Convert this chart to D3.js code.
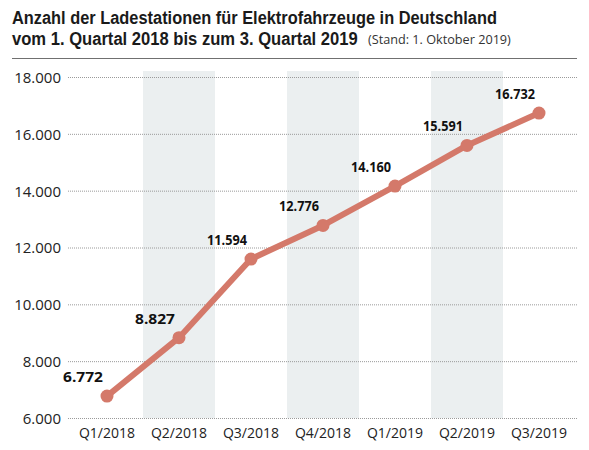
<!DOCTYPE html>
<html>
<head>
<meta charset="utf-8">
<script src="https://cdn.jsdelivr.net/npm/d3@7"></script>
<style>
  body { margin: 0; background: #fff; }
  svg { display: block; font-family: "Open Sans", "Noto Sans", sans-serif; }
</style>
</head>
<body>
<svg id="chart" width="589" height="450"></svg>
<script>
// data
var quarters = ['Q1/2018', 'Q2/2018', 'Q3/2018', 'Q4/2018', 'Q1/2019', 'Q2/2019', 'Q3/2019'];
var stations = [6772, 8827, 11594, 12776, 14160, 15591, 16732];
var yTicks = [6000, 8000, 10000, 12000, 14000, 16000, 18000];
var shaded = ['Q2/2018', 'Q4/2018', 'Q2/2019'];

var de = d3.formatLocale({ decimal: ',', thousands: '.', grouping: [3], currency: ['', ' €'] });
var fmt = de.format(',d');

var svg = d3.select('#chart');
var lineColor = '#d4796a';

var x = d3.scaleBand().domain(quarters).range([71, 575]).padding(0);
var y = d3.scaleLinear().domain([6000, 18000]).range([418, 77]);

function cx(q) { return x(q) + x.bandwidth() / 2; }

// squeeze a text horizontally to a given width (the original uses a condensed face)
function squeeze(sel, px, py, width, anchor) {
    var w = sel.node().getComputedTextLength();
    var s = width / w;
    sel.attr('text-anchor', anchor || 'start')
       .attr('transform', 'translate(' + px + ',' + py + ') scale(' + s + ',1)');
}

// title
var titleFont = '"Liberation Sans", Arial, sans-serif';
squeeze(svg.append('text')
    .style('font-family', titleFont)
    .attr('font-size', 18.5).attr('font-weight', 'bold').attr('fill', '#1a1a1a')
    .text('Anzahl der Ladestationen für Elektrofahrzeuge in Deutschland'), 12, 24, 485);
squeeze(svg.append('text')
    .style('font-family', titleFont)
    .attr('font-size', 18.5).attr('font-weight', 'bold').attr('fill', '#1a1a1a')
    .text('vom 1. Quartal 2018 bis zum 3. Quartal 2019'), 12, 45, 346);
squeeze(svg.append('text')
    .attr('font-size', 12).attr('fill', '#333')
    .text('(Stand: 1. Oktober 2019)'), 368, 44, 143);

svg.append('line')
    .attr('x1', 12).attr('x2', 577).attr('y1', 58.5).attr('y2', 58.5)
    .attr('stroke', '#707070').attr('stroke-width', 1.2);

// shaded columns
svg.append('g').selectAll('rect')
    .data(shaded)
    .enter()
    .append('rect')
        .attr('x', function(q) { return x(q); })
        .attr('y', 71)
        .attr('width', x.bandwidth())
        .attr('height', y(6000) - 71)
        .attr('fill', '#ebeff0');

// y axis with dotted grid
var yAxis = svg.append('g')
    .attr('transform', 'translate(68,0)')
    .call(d3.axisLeft(y).tickValues(yTicks).tickFormat(fmt).tickSize(-509).tickPadding(7));
yAxis.select('.domain').remove();
yAxis.selectAll('line')
    .attr('stroke', '#9a9a9a').attr('stroke-width', 1).attr('stroke-dasharray', '1,1');
yAxis.selectAll('text')
    .attr('font-size', 15).attr('fill', '#222').attr('dy', '0.36em')
    .style('font-family', '"Open Sans", sans-serif');

// x axis
var xAxis = svg.append('g')
    .attr('transform', 'translate(0,' + y(6000) + ')')
    .call(d3.axisBottom(x).tickSize(0).tickPadding(10));
xAxis.select('.domain').remove();
xAxis.selectAll('text')
    .attr('font-size', 14).attr('fill', '#222')
    .style('font-family', '"Open Sans", sans-serif');

// line and dots
var line = d3.line()
    .x(function(d, i) { return cx(quarters[i]); })
    .y(function(d) { return y(d); });

svg.append('path')
    .datum(stations)
    .attr('d', line)
    .attr('fill', 'none')
    .attr('stroke', lineColor)
    .attr('stroke-width', 6)
    .attr('stroke-linejoin', 'round');

svg.append('g').selectAll('circle')
    .data(stations)
    .enter()
    .append('circle')
        .attr('cx', function(d, i) { return cx(quarters[i]); })
        .attr('cy', function(d) { return y(d); })
        .attr('r', 6.5)
        .attr('fill', lineColor);

// value labels
svg.append('g').selectAll('text')
    .data(stations)
    .enter()
    .append('text')
        .attr('font-size', 14.5).attr('font-weight', 'bold').attr('fill', '#111')
        .text(function(d) { return fmt(d); })
        .each(function(d, i) {
            squeeze(d3.select(this), cx(quarters[i]) - 24, y(d) - 14, 40, 'middle');
        });
</script>
</body>
</html>
